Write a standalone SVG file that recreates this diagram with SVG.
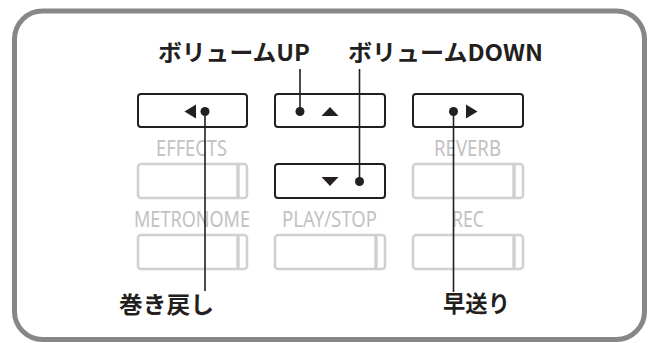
<svg xmlns="http://www.w3.org/2000/svg" width="649" height="343" viewBox="0 0 649 343">
<style>
.frame{fill:#fff;stroke:#87878a;stroke-width:5}
.btn{fill:#fff;stroke:#231f20;stroke-width:2}
.gbtn{fill:#fff;stroke:#d0d0d0;stroke-width:2.5}
.gdiv{stroke:#d0d0d0;stroke-width:3.5}
.glbl{font-family:"Noto Sans","Liberation Sans",sans-serif;font-size:21.5px;fill:#c2c2c2;text-anchor:middle}
.lbl{font-family:"Noto Sans CJK JP","Noto Sans",sans-serif;font-weight:bold;font-size:23px;fill:#231f20}
.sym{fill:#231f20}
.wire{stroke:#231f20;stroke-width:1.6;fill:none}
</style>
<rect class="frame" x="14.5" y="11" width="630" height="328.5" rx="28"/>

<g id="gray-buttons">
  <g id="effects">
    <text class="glbl" x="191.5" y="155.5" textLength="71" lengthAdjust="spacingAndGlyphs">EFFECTS</text>
    <rect class="gbtn" x="138" y="164" width="109" height="34" rx="3"/>
    <line class="gdiv" x1="238" y1="165" x2="238" y2="197"/>
  </g>
  <g id="reverb">
    <text class="glbl" x="467.5" y="155.5" textLength="67" lengthAdjust="spacingAndGlyphs">REVERB</text>
    <rect class="gbtn" x="413" y="164" width="110" height="34" rx="3"/>
    <line class="gdiv" x1="514" y1="165" x2="514" y2="197"/>
  </g>
  <g id="metronome">
    <text class="glbl" x="192" y="226.5" textLength="116" lengthAdjust="spacingAndGlyphs">METRONOME</text>
    <rect class="gbtn" x="138" y="235" width="109" height="34" rx="3"/>
    <line class="gdiv" x1="238" y1="236" x2="238" y2="268"/>
  </g>
  <g id="playstop">
    <text class="glbl" x="329.5" y="226.5" textLength="95" lengthAdjust="spacingAndGlyphs">PLAY/STOP</text>
    <rect class="gbtn" x="275" y="235" width="110" height="34" rx="3"/>
    <line class="gdiv" x1="376" y1="236" x2="376" y2="268"/>
  </g>
  <g id="rec">
    <text class="glbl" x="468" y="226.5" textLength="32" lengthAdjust="spacingAndGlyphs">REC</text>
    <rect class="gbtn" x="413" y="235" width="110" height="34" rx="3"/>
    <line class="gdiv" x1="514" y1="236" x2="514" y2="268"/>
  </g>
</g>

<g id="btn-rewind">
  <rect class="btn" x="138" y="94" width="109" height="33" rx="3"/>
  <polygon class="sym" points="184.5,111.5 196,104.5 196,118.5"/>
</g>
<g id="btn-up">
  <rect class="btn" x="275" y="94" width="110" height="33" rx="3"/>
  <polygon class="sym" points="321.5,116 338.5,116 330,107"/>
</g>
<g id="btn-ff">
  <rect class="btn" x="413" y="94" width="110" height="33" rx="3"/>
  <polygon class="sym" points="477.5,111.5 466,104.5 466,118.5"/>
</g>
<g id="btn-down">
  <rect class="btn" x="275" y="164" width="110" height="34" rx="3"/>
  <polygon class="sym" points="321.5,177 338.5,177 330,186"/>
</g>

<g id="connectors">
  <line class="wire" x1="300" y1="69" x2="300" y2="111.5"/>
  <line class="wire" x1="359.5" y1="69" x2="359.5" y2="181.5"/>
  <line class="wire" x1="205" y1="111.5" x2="205" y2="291"/>
  <line class="wire" x1="453.5" y1="111.5" x2="453.5" y2="292"/>
  <circle class="sym" cx="300" cy="111.5" r="4.5"/>
  <circle class="sym" cx="359.5" cy="181.5" r="4.5"/>
  <circle class="sym" cx="205" cy="111.5" r="4.5"/>
  <circle class="sym" cx="453.5" cy="111.5" r="4.5"/>
</g>

<g id="label-up"><text class="lbl" x="158" y="61" textLength="152" lengthAdjust="spacingAndGlyphs">ボリュームUP</text></g>
<g id="label-down"><text class="lbl" x="348" y="61" textLength="195" lengthAdjust="spacingAndGlyphs">ボリュームDOWN</text></g>
<g id="label-rewind"><text class="lbl" x="119" y="313" textLength="95" lengthAdjust="spacingAndGlyphs">巻き戻し</text></g>
<g id="label-ff"><text class="lbl" x="443" y="312" textLength="67" lengthAdjust="spacingAndGlyphs">早送り</text></g>
</svg>
